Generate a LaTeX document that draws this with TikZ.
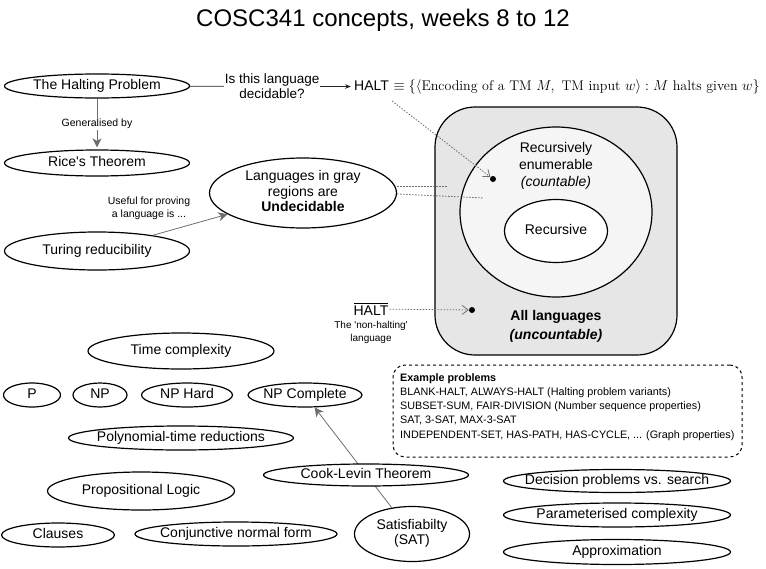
\documentclass[tikz,border=0pt]{standalone}
\usepackage{amsmath}
\usepackage{fontspec}
\usetikzlibrary{shapes.geometric,arrows.meta}
\newfontfamily\arial{Liberation Sans}
\newcommand\zt[1]{\makebox[0pt]{\begin{tabular}{@{}c@{}}#1\end{tabular}}}
\definecolor{boxgray}{RGB}{230,230,230}
\definecolor{regray}{RGB}{245,245,245}
\definecolor{edgegray}{RGB}{110,110,110}
\begin{document}
\begin{tikzpicture}[x=1pt,y=-1pt,
  ell/.style 2 args={ellipse,draw,line width=1.2pt,inner sep=0pt,minimum width=#1,minimum height=#2,font=\arial\fontsize{14}{15.5}\selectfont},
  txt/.style={font=\arial\fontsize{14}{17}\selectfont,align=center,inner sep=0pt},
  small/.style={font=\arial\fontsize{10.5}{13}\selectfont,align=center,inner sep=1pt},
  grayedge/.style={draw=edgegray,line width=0.8pt},
  dotedge/.style={draw=edgegray,line width=0.8pt,dash pattern=on 1.5pt off 1.5pt},
  bigtip/.style={-{Stealth[length=9pt,width=9pt,inset=2.5pt]}},
  opentip/.style={-{Straight Barb[length=6pt,width=9pt]}},
  dot/.style={circle,fill=black,inner sep=0pt,minimum size=6pt}]
\useasboundingbox (0,0) rectangle (766,568);

\node[font=\arial\fontsize{24}{28}\selectfont] (title) at (383,20) {COSC341 concepts, weeks 8 to 12};

% top-left concepts
\node[ell={185}{24}] (halt) at (97,86) {\zt{The Halting Problem}};
\node[ell={185}{26}] (rice) at (97,163) {\zt{Rice's Theorem}};
\node[ell={187}{70}] (undec) at (303,193) {\zt{Languages in gray\\regions are\\\textbf{Undecidable}}};
\node[ell={185}{38}] (turing) at (97,251) {\zt{Turing reducibility}};

% HALT definition
\node[anchor=west,inner sep=0pt,font=\fontsize{14}{16}\selectfont] (haltdef) at (354,87)
  {{\arial HALT} $\equiv\{\langle\textnormal{Encoding of a TM }M,\ \textnormal{TM input }w\rangle : M\textnormal{ halts given }w\}$};

% gray region
\node[draw,line width=1.2pt,fill=boxgray,rounded corners=40pt,minimum width=242,minimum height=248,inner sep=0pt] (all) at (556,231) {};
\node[ell={192}{170},fill=regray] (re) at (556,212) {};
\node[ell={103}{63},fill=white] (rec) at (556,231) {\zt{Recursive}};
\node[txt] (retext) at (556,166) {Recursively\\enumerable\\\textit{(countable)}};
\node[txt,font=\arial\bfseries\fontsize{14}{19}\selectfont] (alltext) at (556,326) {All languages\\\textit{(uncountable)}};
\node[dot] (d1) at (493,179) {};
\node[dot] (d2) at (472,310) {};

\node[inner sep=1pt,font=\arial\fontsize{14}{16}\selectfont] (hbar) at (371,309) {$\overline{\mbox{\arial HALT}}$};
\node[small,font=\arial\fontsize{10}{13}\selectfont] (nonhalt) at (371,332) {The \textquotesingle non-halting\textquotesingle\\language};

% connectors top
\draw[draw=black!85,line width=0.8pt,-{Stealth[length=6pt,width=4.5pt]},shorten >=3pt] (halt) -- node[fill=white,font=\arial\fontsize{13.5}{15}\selectfont,align=center,inner sep=1pt] (q) {Is this language\\decidable?} (haltdef);
\draw[grayedge,bigtip,shorten >=2pt] (halt) -- node[fill=white,small] (gen) {Generalised by} (rice);
\draw[grayedge,bigtip] (turing) -- (undec);
\node[small] (useful) at (149,208) {Useful for proving\\a language is ...};

\coordinate (hs) at (392,101);
\draw[dotedge,opentip] (hs) -- (d1);
\draw[dotedge,opentip] (hbar) -- (d2);
\coordinate (u1) at (448,186);
\coordinate (u2) at (484,198);
\draw[dotedge] ([yshift=7pt]undec.east) -- (u1);
\draw[dotedge] ([yshift=-1pt]undec.east) -- (u2);

% example problems
\node[draw,dashed,line width=1pt,rounded corners=12pt,minimum width=349,minimum height=92,inner sep=0pt] (exbox) at (567.5,411) {};
\node[anchor=north west,align=left,inner sep=0pt,font=\arial\fontsize{10.8}{14.3}\selectfont] (extext) at (400,373)
 {\textbf{Example problems}\\
  BLANK-HALT, ALWAYS-HALT (Halting problem variants)\\
  SUBSET-SUM, FAIR-DIVISION (Number sequence properties)\\
  SAT, 3-SAT, MAX-3-SAT\\
  INDEPENDENT-SET, HAS-PATH, HAS-CYCLE, ... (Graph properties)};

% lower concepts
\node[ell={186}{36}] (time) at (181,351) {\zt{Time complexity}};
\node[ell={57}{24}] (p) at (32,395) {\zt{P}};
\node[ell={54}{24}] (np) at (100,395) {\zt{NP}};
\node[ell={91}{24}] (nph) at (187,395) {\zt{NP Hard}};
\node[ell={114}{24}] (npc) at (305,395) {\zt{NP Complete}};
\node[ell={225}{24}] (poly) at (181,438) {\zt{Polynomial-time reductions}};
\node[ell={187}{38}] (prop) at (141,491) {\zt{Propositional Logic}};
\node[ell={113}{24}] (clauses) at (58,535) {\zt{Clauses}};
\node[ell={202}{24}] (cnf) at (236,534) {\zt{Conjunctive normal form}};
\node[ell={115}{55}] (sat) at (412,534) {\zt{Satisfiabilty\\(SAT)}};
\draw[grayedge,bigtip] (sat) -- (npc);
\node[ell={205}{22},fill=white] (cook) at (366,475) {\zt{Cook-Levin Theorem}};
\node[ell={227}{23}] (dec) at (617,481) {\zt{Decision problems vs. search}};
\node[ell={227}{24}] (param) at (617,515) {\zt{Parameterised complexity}};
\node[ell={227}{25}] (approx) at (617,552) {\zt{Approximation}};
\end{tikzpicture}
\end{document}
